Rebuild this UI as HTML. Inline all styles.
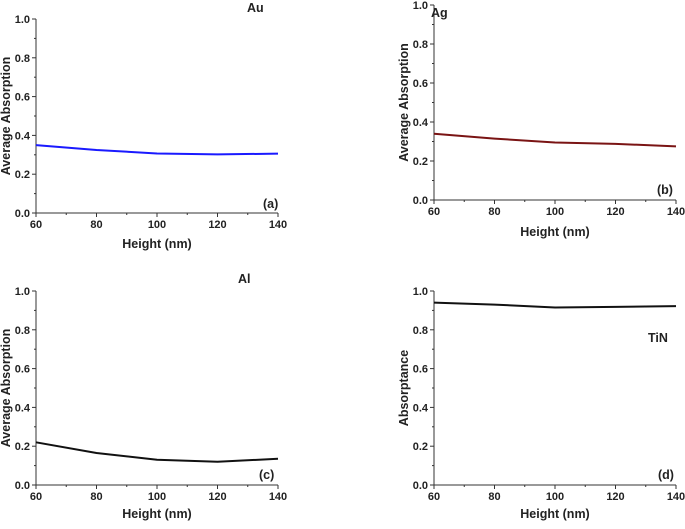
<!DOCTYPE html>
<html><head><meta charset="utf-8"><style>
body{margin:0;background:#fff;width:685px;height:524px;overflow:hidden}
svg text{font-family:"Liberation Sans",Arial,sans-serif;font-weight:bold;fill:#222}
</style></head><body>
<svg id="s" width="685" height="524"></svg>
<script>
const heights=[60,80,100,120,140];
const auVals=[0.35,0.325,0.307,0.302,0.306];
const agVals=[0.34,0.315,0.295,0.288,0.275];
const alVals=[0.22,0.165,0.13,0.12,0.135];
const tinVals=[0.94,0.93,0.915,0.918,0.922];
const xTicks=[60,80,100,120,140];
const yTicks=[0,0.2,0.4,0.6,0.8,1.0];
const panels=[
 {id:'au',x0:36,x1:278,yt:19,yb:213,vals:auVals,color:'#1a1aff',title:'Au',tx:247,ty:12,lab:'(a)',lx:263,ly:208,ytitle:'Average Absorption',xt:248},
 {id:'ag',x0:434,x1:676,yt:5,yb:200,vals:agVals,color:'#7a1414',title:'Ag',tx:431,ty:17,lab:'(b)',lx:657,ly:194,ytitle:'Average Absorption',xt:236},
 {id:'al',x0:36,x1:278,yt:291,yb:485,vals:alVals,color:'#111',title:'Al',tx:238,ty:283,lab:'(c)',lx:259,ly:479,ytitle:'Average Absorption',xt:518},
 {id:'tin',x0:434,x1:676,yt:291,yb:485,vals:tinVals,color:'#111',title:'TiN',tx:648,ty:342,lab:'(d)',lx:658,ly:479,ytitle:'Absorptance',xt:518}
];
const NS='http://www.w3.org/2000/svg';
const svg=document.getElementById('s');
function mk(t,a,p,txt){const e=document.createElementNS(NS,t);for(const k in a)e.setAttribute(k,a[k]);if(txt!==undefined)e.textContent=txt;(p||svg).appendChild(e);return e;}
panels.forEach(P=>{
 const g=mk('g',{});
 
 
 const sx=v=>P.x0+(v-60)/80*(P.x1-P.x0);
 const sy=v=>P.yb-v*(P.yb-P.yt);
 const ax=mk('path',{d:`M${P.x0},${P.yt}V${P.yb}H${P.x1}`,stroke:'#333',fill:'none','stroke-width':1},g);
 
 
 for(let v=60;v<=140;v+=10){const maj=v%20==0;mk('line',{x1:sx(v),x2:sx(v),y1:P.yb,y2:P.yb+(maj?4:2),stroke:'#333'},g);}
 for(let i=0;i<=10;i++){const v=i/10;mk('line',{x1:P.x0,x2:P.x0-(i%2==0?4:2),y1:sy(v),y2:sy(v),stroke:'#333'},g);}
 xTicks.forEach(v=>{const t=mk('text',{x:sx(v),y:P.yb+15,'text-anchor':'middle','font-size':11},g,String(v));});
 yTicks.forEach(v=>{const t=mk('text',{x:P.x0-6,y:sy(v)+4,'text-anchor':'end','font-size':11},g,v.toFixed(1));});
 const xt=mk('text',{x:(P.x0+P.x1)/2,y:P.xt,'text-anchor':'middle','font-size':12.5},g,'Height (nm)');
 
 const ycx=P.x0-26,ycy=(P.yt+P.yb)/2;
 const yt=mk('text',{x:ycx,y:ycy,'text-anchor':'middle','font-size':12.5,transform:`rotate(-90 ${ycx} ${ycy})`},g,P.ytitle);
 
 const tt=mk('text',{x:P.tx,y:P.ty,'font-size':12.5},g,P.title);
 
 const lb=mk('text',{x:P.lx,y:P.ly,'font-size':12.5},g,P.lab);
 
 const d=P.vals.map((v,i)=>(i?'L':'M')+sx(heights[i])+','+sy(v)).join('');
 const ln=mk('path',{d:d,stroke:P.color,fill:'none','stroke-width':2,'stroke-linejoin':'round'},g);
 
 
});
</script>
</body></html>
